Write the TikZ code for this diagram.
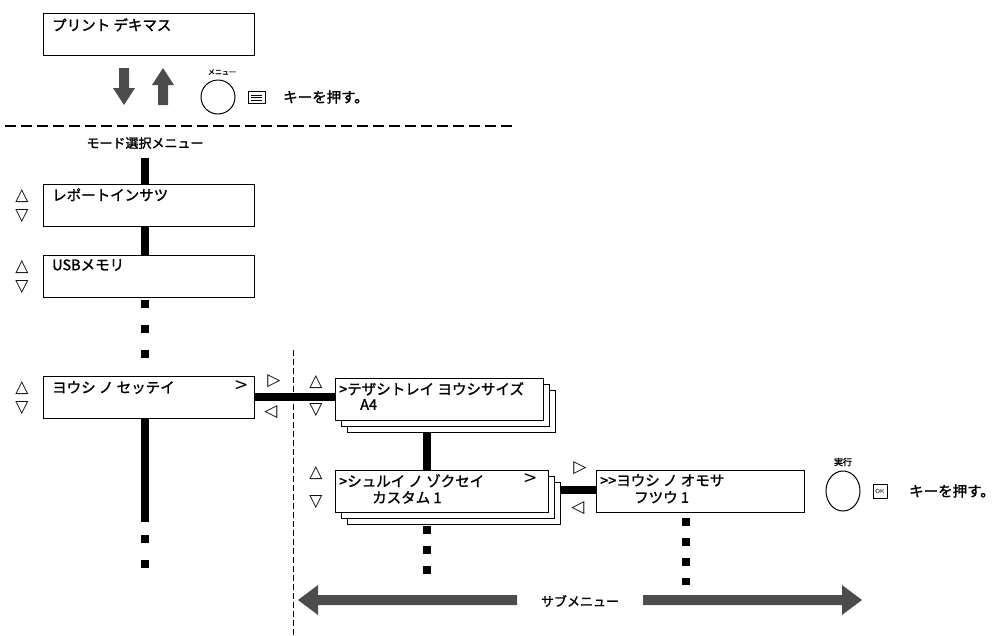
\documentclass[tikz,border=0pt]{standalone}
\usepackage{fontspec}
\setmainfont{Noto Sans CJK JP}[FakeBold=1.5,BoldFont={Noto Sans CJK JP}]
\newfontfamily\symf{DejaVu Sans}
\begin{document}
\begin{tikzpicture}[x=1pt,y=-1pt,
  box/.style={draw,line width=1pt,fill=white},
  txt/.style={anchor=north west,inner sep=0pt,font=\bfseries\fontsize{14.5}{16}\selectfont},
  bar/.style={line width=8pt},
  dots/.style={line width=8pt,dash pattern=on 8pt off 17pt},
  tri/.style={font=\symf\fontsize{17}{17}\selectfont,inner sep=0pt},
  garrow/.style={fill=black!70,draw=none}]
\useasboundingbox (0,0) rectangle (1004,635);
% top box
\draw[box] (43,13) rectangle (254,55);
\node[txt] (t1) at (52,18) {プリント デキマス};
% arrows
\fill[garrow] (119,68) -- (129,68) -- (129,88) -- (135,88) -- (124,105) -- (113,88) -- (119,88) -- cycle;
\fill[garrow] (158,105) -- (168,105) -- (168,85) -- (174,85) -- (163,68) -- (152,85) -- (158,85) -- cycle;
\draw[line width=1pt] (218,97) circle (17);
\node[font=\fontsize{7}{8}\selectfont] (m) at (222,72) {メニュー};
\draw[line width=0.8pt] (248,91) rectangle (265,103);
\draw[line width=0.8pt] (251,95)--(262,95) (251,97.5)--(262,97.5) (251,100)--(262,100);
\node[txt,anchor=west] (k1) at (283,97) {キーを押す。};
\draw[line width=1.5pt,dash pattern=on 11pt off 5pt] (5,126) -- (512,126);
\node[font=\bfseries\fontsize{13}{14}\selectfont] (mode) at (145,143) {モード選択メニュー};
% left column boxes
\draw[box] (43,184) rectangle (254,226);
\node[txt] at (52,188) {レポートインサツ};
\draw[box] (43,255) rectangle (254,297);
\node[txt] at (52,259) {USBメモリ};
\draw[box] (43,376) rectangle (254,418);
\node[txt] at (52,381) {ヨウシ ノ セッテイ};
\node[txt,font=\symf\fontsize{17}{17}\selectfont] at (234,380) {>};
\draw[bar] (145,158) -- (145,184);
\draw[bar] (145,226) -- (145,255);
\draw[dots] (145,300) -- (145,370);
\draw[bar] (145,418) -- (145,522);
\draw[dots] (145,535) -- (145,580);
\foreach \y in {184,255,376}{
  \node[tri] at (22,\y+12) {△};
  \node[tri] at (22,\y+32) {▽};}
% connector to submenu
\draw[bar] (254,397) -- (335,397);
\node[tri] at (274,381) {▷};
\node[tri] at (271,412) {◁};
\draw[line width=0.8pt,dash pattern=on 6pt off 3pt] (293,350) -- (293,635);
% box5 stack
\draw[box] (347,390) rectangle (555,432);
\draw[box] (341,384) rectangle (549,426);
\draw[box] (335,378) rectangle (543,420);
\node[txt] at (339,382) {{>}テザシトレイ ヨウシサイズ};
\node[txt] at (360,399) {A4};
\node[tri] at (316,382) {△};
\node[tri] at (316,410) {▽};
\draw[bar] (427,432) -- (427,470);
% box6 stack
\draw[box] (347,482) rectangle (560,524);
\draw[box] (341,476) rectangle (554,518);
\draw[box] (335,470) rectangle (548,512);
\node[txt] at (339,474) {{>}シュルイ ノ ゾクセイ};
\node[txt,font=\symf\fontsize{17}{17}\selectfont] at (523,473) {>};
\node[txt] at (372,491) {カスタム 1};
\node[tri] at (316,473) {△};
\node[tri] at (316,502) {▽};
\draw[line width=8pt,dash pattern=on 8pt off 12pt] (427,526) -- (427,576);
\draw[bar] (560,490) -- (596,490);
\node[tri] at (580,468) {▷};
\node[tri] at (578,508) {◁};
% box7
\draw[box] (596,470) rectangle (804,512);
\node[txt] at (600,474) {{>}{>}ヨウシ ノ オモサ};
\node[txt] at (634,491) {フツウ 1};
\draw[line width=8pt,dash pattern=on 8pt off 12pt] (686,518) -- (686,585);
\draw[line width=1pt] (843,491) ellipse (17 and 20);
\node[font=\fontsize{9}{10}\selectfont] (ex) at (843,462) {実行};
\draw[line width=0.8pt] (873,484) rectangle (887,498);
\node[font=\sffamily\fontsize{6}{6}\selectfont,inner sep=0pt] at (880,491) {OK};
\node[txt,anchor=west] (k2) at (909,491) {キーを押す。};
% bottom arrow
\fill[garrow] (298,600) -- (318,585) -- (318,595) -- (517,595) -- (517,605) -- (318,605) -- (318,615) -- cycle;
\fill[garrow] (862,600) -- (842,585) -- (842,595) -- (643,595) -- (643,605) -- (842,605) -- (842,615) -- cycle;
\node[font=\bfseries\fontsize{13}{14}\selectfont] (sub) at (580,601) {サブメニュー};
\end{tikzpicture}
\end{document}
